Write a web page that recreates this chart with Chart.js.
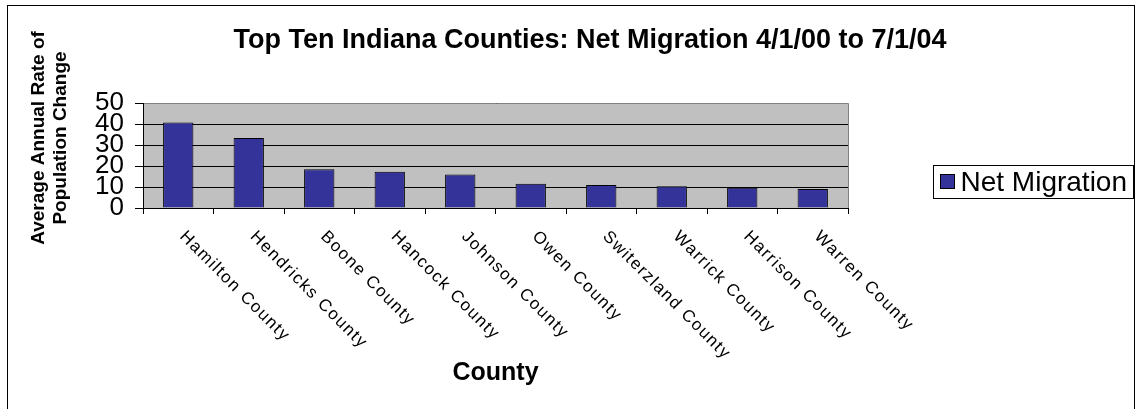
<!DOCTYPE html>
<html>
<head>
<meta charset="utf-8">
<script src="https://cdn.jsdelivr.net/npm/chart.js@4.4.0/dist/chart.umd.min.js"></script>
<style>
    html, body { margin: 0; padding: 0; background: #fff; }
    #contenedor { width: 1142px; height: 409px; }
</style>
</head>
<body>
<div id="contenedor"><canvas id="grafico"></canvas></div>
<script>
// datos del grafico
var condados = ['Hamilton County', 'Hendricks County', 'Boone County', 'Hancock County', 'Johnson County',
    'Owen County', 'Switerzland County', 'Warrick County', 'Harrison County', 'Warren County'];
var migracionNeta = [40.7, 33.3, 18.5, 17.3, 15.9, 11.6, 11.0, 10.4, 9.7, 9.1];
var marcasY = [0, 10, 20, 30, 40, 50];
var nombreSerie = 'Net Migration';
var tituloGrafico = 'Top Ten Indiana Counties: Net Migration 4/1/00 to 7/1/04';
var tituloEjeY = ['Average Annual Rate of', 'Population Change'];
var tituloEjeX = 'County';

var fuente = '"Liberation Sans", Arial, Helvetica, sans-serif';

// fondo, marco exterior y area gris
var pluginFondo = {
    id: 'fondo',
    beforeDraw: function (chart) {
        var c = chart.ctx;
        var a = chart.chartArea;
        c.save();
        c.fillStyle = '#ffffff';
        c.fillRect(0, 0, chart.width, chart.height);
        c.strokeStyle = '#000000';
        c.lineWidth = 1;
        c.strokeRect(7.5, 5.5, 1127, 420);
        c.fillStyle = '#c0c0c0';
        c.fillRect(a.left, a.top, a.right - a.left, a.bottom - a.top);
        c.restore();
    },
    beforeDatasetsDraw: function (chart) {
        var c = chart.ctx;
        var a = chart.chartArea;
        c.save();
        c.strokeStyle = '#808080';
        c.lineWidth = 1;
        c.beginPath();
        c.moveTo(a.left + 1, Math.round(a.top) + 0.5);
        c.lineTo(Math.round(a.right) + 0.5, Math.round(a.top) + 0.5);
        c.lineTo(Math.round(a.right) + 0.5, a.bottom);
        c.stroke();
        c.restore();
    }
};

// textos: titulo, eje Y, etiquetas giradas y leyenda
var pluginTextos = {
    id: 'textos',
    afterDraw: function (chart) {
        var c = chart.ctx;
        var xs = chart.scales.x;
        c.save();
        c.fillStyle = '#000000';

        // titulo
        c.font = 'bold 27px ' + fuente;
        c.textAlign = 'center';
        c.textBaseline = 'alphabetic';
        c.fillText(tituloGrafico, 590, 48);

        // titulo eje Y (dos lineas)
        c.save();
        c.translate(0, 138);
        c.rotate(-Math.PI / 2);
        c.font = 'bold 19px ' + fuente;
        c.textBaseline = 'middle';
        c.fillText(tituloEjeY[0], 0, 39);
        c.fillText(tituloEjeY[1], 0, 61);
        c.restore();

        // etiquetas de categorias a 45 grados
        c.font = '17px ' + fuente;
        c.letterSpacing = '1.5px';
        c.textAlign = 'left';
        c.textBaseline = 'middle';
        condados.forEach(function (nombre, i) {
            var px = xs.getPixelForTick(i);
            c.save();
            c.translate(px + 4, xs.top + 26);
            c.rotate(Math.PI / 4);
            c.fillText(nombre, 0, 0);
            c.restore();
        });
        c.letterSpacing = '0px';

        // leyenda con recuadro
        var ds = chart.data.datasets[0];
        c.font = '28px ' + fuente;
        var anchoTexto = c.measureText(ds.label).width;
        var derecha = 1133.5;
        var izquierda = Math.round(derecha - anchoTexto - 34) + 0.5;
        var arriba = 165.5;
        var alto = 33;
        c.strokeStyle = '#000000';
        c.lineWidth = 1;
        c.strokeRect(izquierda, arriba, derecha - izquierda, alto);
        c.fillStyle = ds.backgroundColor;
        c.fillRect(izquierda + 7, arriba + 9, 14, 14);
        c.strokeRect(izquierda + 7, arriba + 9, 14, 14);
        c.fillStyle = '#000000';
        c.textAlign = 'left';
        c.textBaseline = 'middle';
        c.fillText(ds.label, izquierda + 27, arriba + alto / 2 + 1);

        c.restore();
    }
};

ctx = document.getElementById('grafico').getContext('2d');
myChart = new Chart(ctx, {
    type: 'bar',
    data: {
        labels: condados,
        datasets: [{
            label: nombreSerie,
            data: migracionNeta,
            backgroundColor: '#333399',
            borderColor: '#000000',
            borderWidth: 1,
            categoryPercentage: 1.0,
            barPercentage: 0.43
        }]
    },
    options: {
        responsive: true,
        maintainAspectRatio: false,
        animation: false,
        devicePixelRatio: 1,
        layout: {
            padding: { left: 0, right: 294, top: 103, bottom: 0 }
        },
        plugins: {
            legend: { display: false },
            title: { display: false },
            tooltip: { enabled: false }
        },
        scales: {
            x: {
                offset: true,
                afterFit: function (scale) { scale.height = 201; },
                grid: {
                    offset: true,
                    drawOnChartArea: false,
                    drawTicks: true,
                    tickLength: 6,
                    color: '#000000'
                },
                border: { color: '#000000', width: 1 },
                ticks: { display: false },
                title: {
                    display: true,
                    text: tituloEjeX,
                    color: '#000000',
                    font: { family: fuente, size: 25, weight: 'bold' },
                    padding: { top: 0, bottom: 21 }
                }
            },
            y: {
                min: 0,
                max: 50,
                afterFit: function (scale) { scale.width = 143; },
                afterBuildTicks: function (scale) {
                    scale.ticks = marcasY.map(function (v) { return { value: v }; });
                },
                grid: {
                    color: '#000000',
                    tickLength: 8
                },
                border: { color: '#000000', width: 1 },
                ticks: {
                    autoSkip: false,
                    padding: 11,
                    color: '#000000',
                    font: { family: fuente, size: 26 }
                }
            }
        }
    },
    plugins: [pluginFondo, pluginTextos]
});
</script>
</body>
</html>
